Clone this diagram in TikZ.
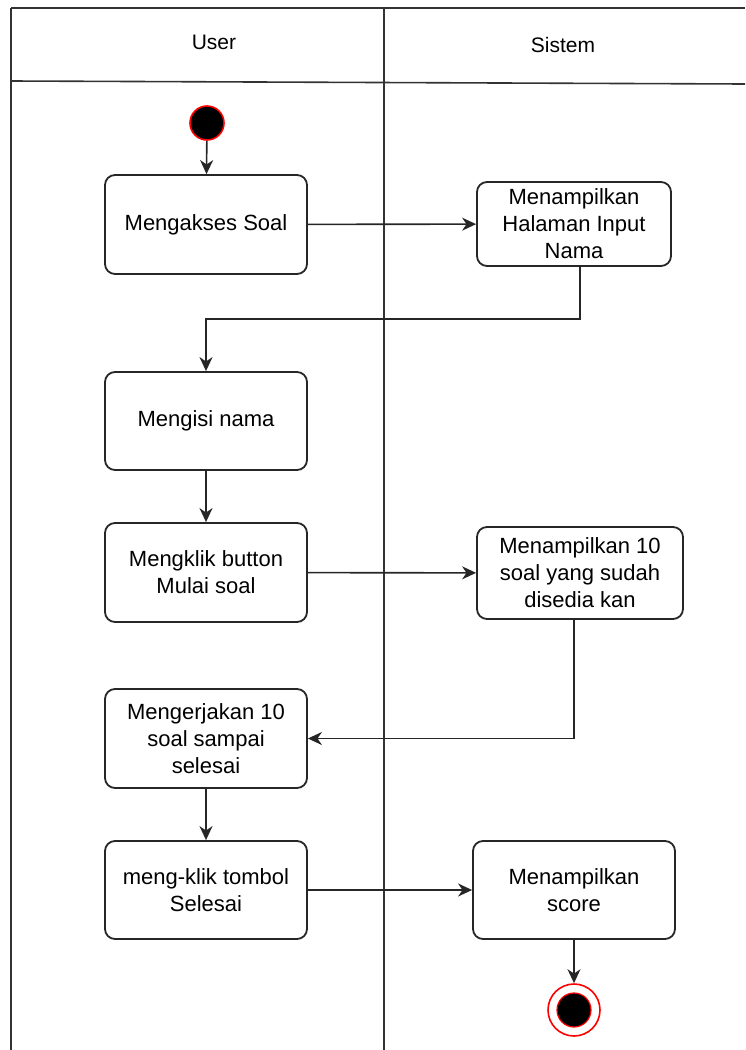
\documentclass[tikz,border=0pt]{standalone}
\usepackage{fontspec}
\setmainfont{Liberation Sans}
\usetikzlibrary{arrows.meta}
\begin{document}
\begin{tikzpicture}[x=0.5pt,y=-0.5pt,
  lane/.style={draw=black!80,line width=0.8pt},
  act/.style={draw=black!85,line width=0.9pt,rounded corners=5pt,fill=white,
    align=center,font=\fontsize{11}{13.5}\selectfont,inner sep=0pt},
  flow/.style={draw=black!85,line width=0.8pt,
    -{Stealth[length=7pt,width=6.5pt,inset=2.2pt]}},
  startnode/.style={circle,fill=black,draw=red,line width=0.8pt,
    minimum size=17pt,inner sep=0pt},
  endring/.style={circle,fill=white,draw=red,line width=0.8pt,
    minimum size=26pt,inner sep=0pt},
  enddot/.style={circle,fill=black,draw=red,line width=0.6pt,
    minimum size=17pt,inner sep=0pt},
  lanetitle/.style={font=\fontsize{10.5}{12}\selectfont}]
\useasboundingbox (0,0) rectangle (745,1050);

% swimlane frame
\draw[lane] (11,8) -- (745,8);
\draw[lane] (11,81) -- (745,84);
\draw[lane] (11,8) -- (11,1050);
\draw[lane] (384,8) -- (384,1050);
\node[lanetitle] (hUser) at (214,42) {User};
\node[lanetitle] (hSistem) at (563,45) {Sistem};

% activities
\node[startnode] (start) at (207,123) {};
\node[act,minimum width=101pt,minimum height=49.5pt] (n1) at (206,224.5) {Mengakses Soal};
\node[act,minimum width=97pt,minimum height=42pt] (n2) at (574,224) {Menampilkan\\Halaman Input\\Nama};
\node[act,minimum width=101pt,minimum height=49pt] (n3) at (206,421) {Mengisi nama};
\node[act,minimum width=101pt,minimum height=49.5pt] (n4) at (206,572.5) {Mengklik button\\Mulai soal};
\node[act,minimum width=103pt,minimum height=46pt] (n5) at (580,573) {Menampilkan 10\\soal yang sudah\\disedia kan};
\node[act,minimum width=101pt,minimum height=49.5pt] (n6) at (206,738.5) {Mengerjakan 10\\soal sampai\\selesai};
\node[act,minimum width=101pt,minimum height=49pt] (n7) at (206,890) {meng-klik tombol\\Selesai};
\node[act,minimum width=101pt,minimum height=49pt] (n8) at (574,890) {Menampilkan\\score};
\node[endring] (endo) at (574,1010) {};
\node[enddot] (endi) at (574,1010) {};

% control flow
\draw[flow] (start) -- (n1);
\draw[flow] (n1) -- (n2);
\draw[flow] ([xshift=3pt]n2.south) -- ++(0,52) -| (n3.north);
\draw[flow] (n3) -- (n4);
\draw[flow] (n4) -- (n5);
\draw[flow] ([xshift=-3pt]n5.south) |- (n6.east);
\draw[flow] (n6) -- (n7);
\draw[flow] (n7) -- (n8);
\draw[flow] (n8) -- (endo);
\end{tikzpicture}
\end{document}
